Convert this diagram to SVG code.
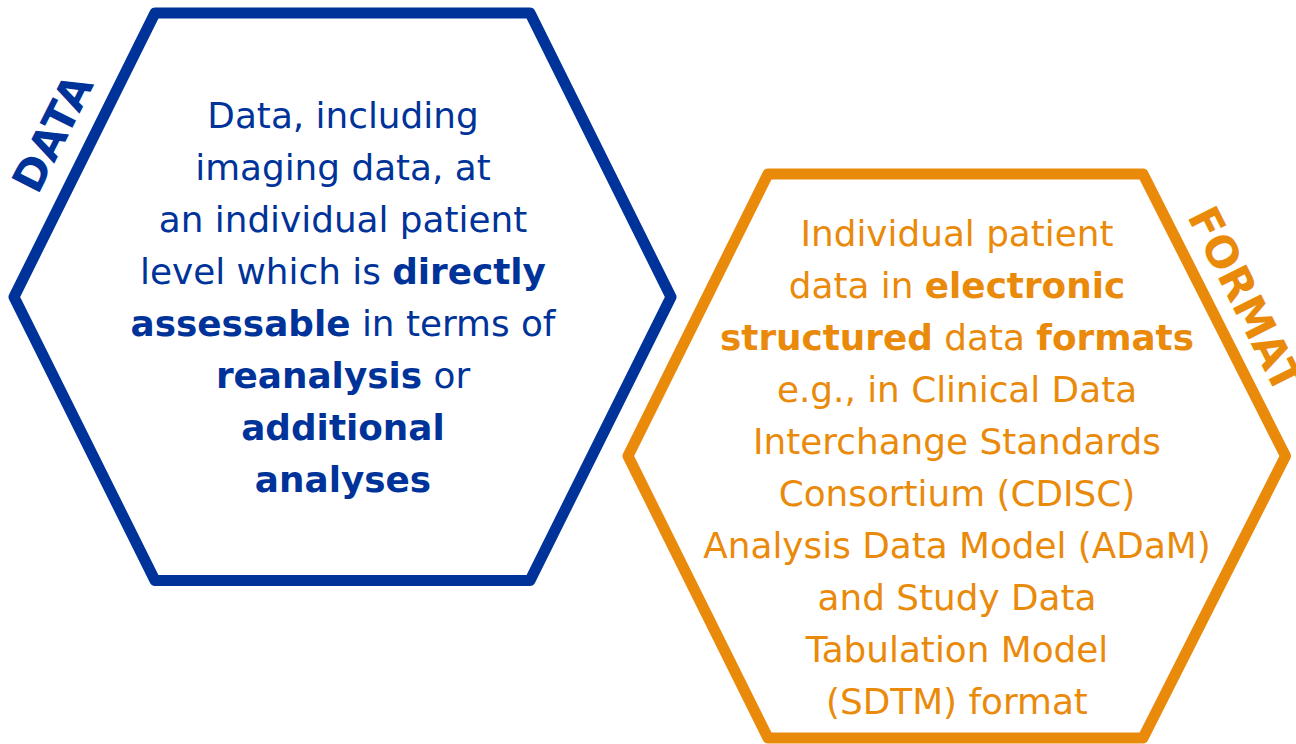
<svg xmlns="http://www.w3.org/2000/svg" width="1296" height="744" viewBox="0 0 1296 744">
  <style>
    .hex { fill: #ffffff; stroke-width: 11; stroke-linejoin: round; }
    .body { font-family: "DejaVu Sans", Verdana, sans-serif; font-size: 35.8px; text-anchor: middle; }
    .tag { font-family: "DejaVu Sans", Verdana, sans-serif; font-size: 43px; font-weight: bold; text-anchor: middle; }
    .b { font-weight: bold; }
    .blue { fill: #003399; }
    .orange { fill: #EA8A0B; }
  </style>
  <rect width="1296" height="744" fill="#ffffff"/>

  <!-- DATA hexagon -->
  <g id="data">
    <polygon class="hex" stroke="#003399" points="155,13 530,13 671,297 530,580.5 155,580.5 14,297"/>
    <text class="tag blue" transform="translate(66,140) rotate(-63.2)">DATA</text>
    <g class="body blue">
      <text x="343" y="128">Data, including</text>
      <text x="343" y="180">imaging data, at</text>
      <text x="343" y="232">an individual patient</text>
      <text x="343" y="284">level which is <tspan class="b">directly</tspan></text>
      <text x="343" y="336"><tspan class="b">assessable</tspan> in terms of</text>
      <text x="343" y="388"><tspan class="b">reanalysis</tspan> or</text>
      <text x="343" y="440" class="b">additional</text>
      <text x="343" y="492" class="b">analyses</text>
    </g>
  </g>

  <!-- FORMAT hexagon -->
  <g id="format">
    <polygon class="hex" stroke="#EA8A0B" points="768,174 1143,174 1285.5,456 1143,738 768,738 628,456"/>
    <text class="tag orange" transform="translate(1232,306) rotate(63.3)">FORMAT</text>
    <g class="body orange">
      <text x="957" y="246">Individual patient</text>
      <text x="957" y="298">data in <tspan class="b">electronic</tspan></text>
      <text x="957" y="350"><tspan class="b">structured</tspan> data <tspan class="b">formats</tspan></text>
      <text x="957" y="402">e.g., in Clinical Data</text>
      <text x="957" y="454">Interchange Standards</text>
      <text x="957" y="506">Consortium (CDISC)</text>
      <text x="957" y="558">Analysis Data Model (ADaM)</text>
      <text x="957" y="610">and Study Data</text>
      <text x="957" y="662">Tabulation Model</text>
      <text x="957" y="714">(SDTM) format</text>
    </g>
  </g>

  <!-- the two hexagons stand apart; nothing links them -->
  <g id="connectors"/>
</svg>
